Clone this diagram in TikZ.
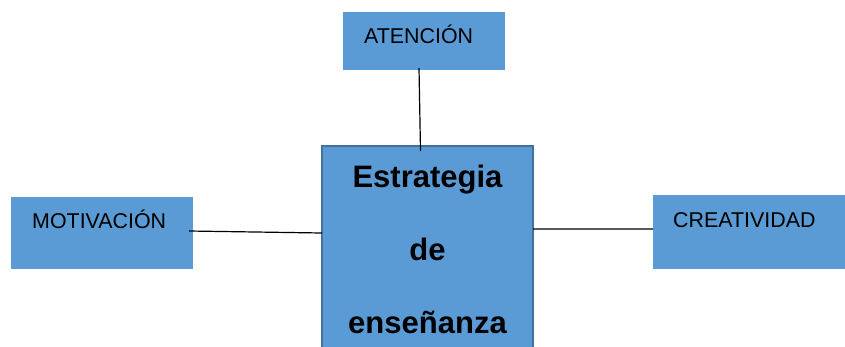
\documentclass[tikz,border=0pt]{standalone}
\usepackage{fontspec}
\setmainfont{Liberation Sans}
\definecolor{boxfill}{HTML}{5B9BD5}
\definecolor{boxline}{HTML}{41719C}
\begin{document}
\begin{tikzpicture}[x=1bp,y=-1bp,
  box/.style={fill=boxfill, draw=none, inner sep=0, outer sep=0, anchor=north west},
  mainbox/.style={fill=boxfill, draw=boxline, line width=2bp, inner sep=0, outer sep=0, anchor=north west},
  lbl/.style={anchor=base west, inner sep=0, font=\fontsize{21.4bp}{25bp}\selectfont},
  big/.style={anchor=base, inner sep=0, font=\fontsize{31bp}{36bp}\selectfont\bfseries},
  conn/.style={draw=black, line width=1.2bp}]
\useasboundingbox (0,0) rectangle (845,346);
\begin{scope}
\clip (0,0) rectangle (845,346);
\node[box, minimum width=162bp, minimum height=58bp] (att) at (343,12) {};
\node[box, minimum width=182bp, minimum height=72bp] (mot) at (11,197) {};
\node[box, minimum width=195bp, minimum height=74bp] (cre) at (653,195) {};
\node[mainbox, minimum width=211bp, minimum height=220bp] (est) at (322,146) {};
\node[lbl] (attt) at (364,43) {ATENCIÓN};
\node[lbl] (mott) at (32,228) {MOTIVACIÓN};
\node[lbl] (cret) at (673,227) {CREATIVIDAD};
\node[big] (e1) at (427.5,187) {Estrategia};
\node[big] (e2) at (427.5,260) {de};
\node[big] (e3) at (427.5,333) {enseñanza};
\draw[conn] ([xshift=-5bp,yshift=2bp]att.south) -- ([xshift=-7bp,yshift=-5bp]est.north);
\draw[conn] ([xshift=-4bp,yshift=2bp]mot.east) -- ([yshift=23bp]est.west);
\draw[conn] ([yshift=27bp]est.east) -- ([yshift=3bp]cre.west);
\end{scope}
\end{tikzpicture}
\end{document}
